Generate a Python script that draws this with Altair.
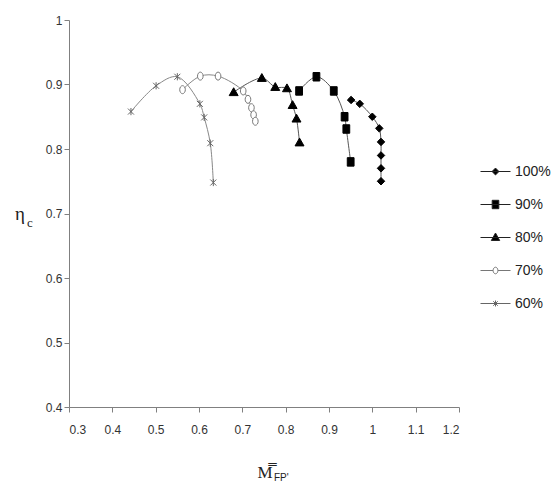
import altair as alt
import pandas as pd

# Compressor efficiency vs. corrected mass flow, one curve per speed line
series_names = ["100%", "90%", "80%", "70%", "60%"]

x100 = [0.951, 0.971, 1.000, 1.016, 1.020, 1.020, 1.020, 1.020]
y100 = [0.876, 0.870, 0.850, 0.832, 0.811, 0.790, 0.770, 0.750]

x90 = [0.831, 0.871, 0.911, 0.936, 0.940, 0.950]
y90 = [0.890, 0.912, 0.890, 0.850, 0.831, 0.780]

x80 = [0.680, 0.745, 0.776, 0.803, 0.816, 0.825, 0.832]
y80 = [0.888, 0.910, 0.896, 0.894, 0.868, 0.847, 0.810]

x70 = [0.562, 0.603, 0.644, 0.702, 0.713, 0.721, 0.726, 0.730]
y70 = [0.892, 0.913, 0.913, 0.890, 0.877, 0.864, 0.853, 0.843]

x60 = [0.443, 0.501, 0.550, 0.602, 0.612, 0.626, 0.633]
y60 = [0.858, 0.898, 0.912, 0.870, 0.849, 0.809, 0.748]

x_ticks = [0.3, 0.4, 0.5, 0.6, 0.7, 0.8, 0.9, 1.0, 1.1, 1.2]
y_ticks = [0.4, 0.5, 0.6, 0.7, 0.8, 0.9, 1.0]

rows = []
for name, xs, ys in zip(series_names, [x100, x90, x80, x70, x60], [y100, y90, y80, y70, y60]):
    for i, (xv, yv) in enumerate(zip(xs, ys)):
        rows.append({"series": name, "idx": i, "m": xv, "eta": yv})
df = pd.DataFrame(rows)

# marker styling per series: (path in a -1..1 box, size, fill, stroke)
marker_style = {
    "100%": ("M0,-1L1,0L0,1L-1,0Z", 56, "#000000", "#000000"),
    "90%": ("M-0.8,-1H0.8V1H-0.8Z", 72, "#000000", "#000000"),
    "80%": ("M0,-1L1,0.75H-1Z", 80, "#000000", "#000000"),
    "70%": ("M0.7,0A0.7,1,0,1,1,-0.7,0A0.7,1,0,1,1,0.7,0Z", 64, "#ffffff", "#777777"),
    "60%": ("M-1,-1L1,1M-1,1L1,-1M0,-1.2V1.2", 36, "#ffffff", "#666666"),
}
line_color = {"100%": "#555555", "90%": "#555555", "80%": "#555555",
              "70%": "#888888", "60%": "#888888"}

# legend symbols: a short line segment with the marker on it
legend_paths = [
    "M-1,0H1M0,-0.23L0.23,0L0,0.23L-0.23,0Z",
    "M-1,0H1M-0.22,-0.28H0.22V0.28H-0.22Z",
    "M-1,0H1M0,-0.3L0.28,0.2H-0.28Z",
    "M-1,0H-0.16M0.16,0H1M0.16,0A0.16,0.22,0,1,1,-0.16,0A0.16,0.22,0,1,1,0.16,0Z",
    "M-1,0H1M-0.15,-0.15L0.15,0.15M-0.15,0.15L0.15,-0.15M0,-0.2V0.2",
]
legend_fill = [marker_style[s][2] for s in series_names]
legend_stroke = ["#222222", "#222222", "#222222", "#777777", "#666666"]

sans = "Liberation Sans, Arial, sans-serif"

x_enc = alt.X("m:Q", scale=alt.Scale(domain=[0.3, 1.2], nice=False, zero=False),
              axis=alt.Axis(values=x_ticks, format="~g", title=None))
y_enc = alt.Y("eta:Q", scale=alt.Scale(domain=[0.4, 1.0], nice=False, zero=False),
              axis=alt.Axis(values=y_ticks, format="~g", title=None))

base = alt.Chart(df)
layers = []
for name in series_names:
    path, size, fill, stroke = marker_style[name]
    sub = base.transform_filter(alt.datum.series == name)
    layers.append(
        sub.mark_line(interpolate="catmull-rom", color=line_color[name], strokeWidth=1)
        .encode(x=x_enc, y=y_enc, order="idx:Q")
    )
    layers.append(
        sub.mark_point(shape=path, size=size, fill=fill, stroke=stroke,
                       strokeWidth=1, opacity=1, filled=False)
        .encode(x=x_enc, y=y_enc)
    )

# legend-only layer (no rows survive the filter; the legend comes from the scale domains)
legend_layer = base.transform_filter("false").mark_point(strokeWidth=1).encode(
    x=x_enc,
    y=y_enc,
    shape=alt.Shape("series:N", scale=alt.Scale(domain=series_names, range=legend_paths),
                    legend=alt.Legend(title=None, orient="none", legendX=411, legendY=136,
                                      symbolSize=900, symbolStrokeWidth=1, symbolOpacity=1,
                                      labelFont=sans, labelFontSize=14, labelColor="#222222",
                                      labelOffset=4, rowPadding=10, padding=0)),
    fill=alt.Fill("series:N", scale=alt.Scale(domain=series_names, range=legend_fill), legend=None),
    stroke=alt.Stroke("series:N", scale=alt.Scale(domain=series_names, range=legend_stroke), legend=None),
)

one = alt.Data(values=[{}])
titles = [
    alt.Chart(one).mark_text(text="η", font="Liberation Serif", fontSize=19, color="#222222",
                             align="center", baseline="alphabetic")
    .encode(x=alt.value(-49), y=alt.value(200)),
    alt.Chart(one).mark_text(text="c", font="Liberation Serif", fontSize=13, color="#222222",
                             align="left", baseline="alphabetic")
    .encode(x=alt.value(-42), y=alt.value(207)),
    alt.Chart(one).mark_text(text="M\u033F", font="Liberation Serif", fontSize=17, color="#222222",
                             align="center", baseline="alphabetic")
    .encode(x=alt.value(196), y=alt.value(458)),
    alt.Chart(one).mark_text(text="FP'", font=sans, fontSize=10, color="#222222",
                             align="left", baseline="alphabetic")
    .encode(x=alt.value(205), y=alt.value(461)),
]

chart = alt.layer(*layers, legend_layer, *titles).properties(
    width=390, height=387,
    autosize="none",
    padding={"left": 69, "top": 20, "right": 96, "bottom": 82},
).configure_view(stroke=None).configure_axis(
    domainColor="#808080", tickColor="#808080", tickSize=5, grid=False,
    labelFont=sans, labelFontSize=12, labelColor="#333333",
).configure_axisX(labelPadding=12).configure_axisY(labelPadding=2)

chart.save("out.html", embed_options={"renderer": "svg", "actions": False})
